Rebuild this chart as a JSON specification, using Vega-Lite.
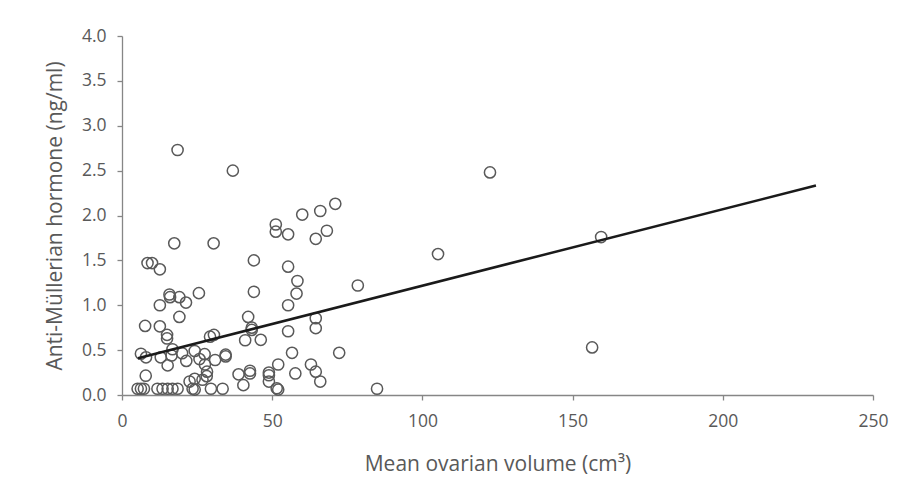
{
  "$schema": "https://vega.github.io/schema/vega-lite/v6.json",
  "autosize": {"type": "none"},
  "width": 751,
  "height": 359,
  "padding": {"left": 122, "top": 36, "right": 30, "bottom": 98},
  "background": "white",
  "config": {
    "view": {"stroke": null},
    "font": "Open Sans",
    "axis": {
      "grid": false,
      "domainColor": "#868686",
      "domainWidth": 1.3,
      "tickColor": "#868686",
      "tickWidth": 1.3,
      "tickSize": 5,
      "labelColor": "#595959",
      "labelFont": "Open Sans",
      "labelFontSize": 17.5,
      "titleColor": "#595959",
      "titleFont": "Open Sans",
      "titleFontSize": 21,
      "titleFontWeight": "normal"
    }
  },
  "datasets": {
    "points": [
      {"volume": 18.5, "amh": 2.73}, {"volume": 36.9, "amh": 2.50}, {"volume": 122.5, "amh": 2.48},
      {"volume": 71.0, "amh": 2.13}, {"volume": 66.0, "amh": 2.05}, {"volume": 60.0, "amh": 2.01},
      {"volume": 51.2, "amh": 1.90}, {"volume": 51.2, "amh": 1.82}, {"volume": 55.3, "amh": 1.79},
      {"volume": 68.2, "amh": 1.83}, {"volume": 64.5, "amh": 1.74}, {"volume": 17.4, "amh": 1.69},
      {"volume": 30.5, "amh": 1.69}, {"volume": 159.5, "amh": 1.76}, {"volume": 105.2, "amh": 1.57},
      {"volume": 8.5, "amh": 1.47}, {"volume": 10.0, "amh": 1.47}, {"volume": 12.6, "amh": 1.40},
      {"volume": 43.9, "amh": 1.50}, {"volume": 55.3, "amh": 1.43}, {"volume": 58.4, "amh": 1.27},
      {"volume": 78.5, "amh": 1.22}, {"volume": 58.1, "amh": 1.13}, {"volume": 43.9, "amh": 1.15},
      {"volume": 25.6, "amh": 1.135}, {"volume": 15.8, "amh": 1.12}, {"volume": 16.0, "amh": 1.09},
      {"volume": 19.1, "amh": 1.09}, {"volume": 21.3, "amh": 1.03}, {"volume": 12.6, "amh": 1.00},
      {"volume": 55.3, "amh": 1.00}, {"volume": 19.1, "amh": 0.87}, {"volume": 42.0, "amh": 0.87},
      {"volume": 64.5, "amh": 0.855}, {"volume": 7.7, "amh": 0.77}, {"volume": 12.6, "amh": 0.765},
      {"volume": 43.2, "amh": 0.75}, {"volume": 43.2, "amh": 0.725}, {"volume": 64.5, "amh": 0.745},
      {"volume": 55.3, "amh": 0.71}, {"volume": 15.0, "amh": 0.67}, {"volume": 15.0, "amh": 0.63},
      {"volume": 29.3, "amh": 0.65}, {"volume": 30.6, "amh": 0.67}, {"volume": 41.0, "amh": 0.61},
      {"volume": 46.2, "amh": 0.615}, {"volume": 156.5, "amh": 0.53}, {"volume": 16.8, "amh": 0.51},
      {"volume": 6.3, "amh": 0.46}, {"volume": 8.0, "amh": 0.42}, {"volume": 12.9, "amh": 0.42},
      {"volume": 16.5, "amh": 0.44}, {"volume": 20.0, "amh": 0.465}, {"volume": 21.4, "amh": 0.38},
      {"volume": 24.2, "amh": 0.49}, {"volume": 25.8, "amh": 0.40}, {"volume": 27.5, "amh": 0.455},
      {"volume": 27.6, "amh": 0.34}, {"volume": 28.3, "amh": 0.26}, {"volume": 28.2, "amh": 0.21},
      {"volume": 31.0, "amh": 0.39}, {"volume": 34.5, "amh": 0.45}, {"volume": 34.5, "amh": 0.43},
      {"volume": 56.6, "amh": 0.47}, {"volume": 72.3, "amh": 0.47}, {"volume": 52.0, "amh": 0.34},
      {"volume": 62.9, "amh": 0.34}, {"volume": 64.5, "amh": 0.26}, {"volume": 66.0, "amh": 0.15},
      {"volume": 57.7, "amh": 0.24}, {"volume": 48.9, "amh": 0.25}, {"volume": 48.9, "amh": 0.22},
      {"volume": 48.9, "amh": 0.15}, {"volume": 42.6, "amh": 0.27}, {"volume": 42.6, "amh": 0.24},
      {"volume": 38.8, "amh": 0.23}, {"volume": 40.4, "amh": 0.11}, {"volume": 51.5, "amh": 0.075},
      {"volume": 52.0, "amh": 0.06}, {"volume": 84.9, "amh": 0.07}, {"volume": 15.2, "amh": 0.33},
      {"volume": 7.9, "amh": 0.215}, {"volume": 22.5, "amh": 0.15}, {"volume": 24.2, "amh": 0.18},
      {"volume": 26.8, "amh": 0.17}, {"volume": 5.2, "amh": 0.07}, {"volume": 6.3, "amh": 0.07},
      {"volume": 7.3, "amh": 0.07}, {"volume": 11.8, "amh": 0.07}, {"volume": 13.5, "amh": 0.07},
      {"volume": 15.2, "amh": 0.07}, {"volume": 16.8, "amh": 0.07}, {"volume": 18.5, "amh": 0.07},
      {"volume": 23.5, "amh": 0.07}, {"volume": 24.2, "amh": 0.06}, {"volume": 29.6, "amh": 0.07},
      {"volume": 33.5, "amh": 0.07}
    ],
    "trend": [
      {"volume": 5.3, "amh": 0.41},
      {"volume": 231.0, "amh": 2.335}
    ]
  },
  "layer": [
    {
      "data": {"name": "points"},
      "mark": {"type": "point", "shape": "circle", "filled": false, "size": 125, "stroke": "#595959", "strokeWidth": 1.5, "opacity": 1},
      "encoding": {
        "x": {"field": "volume", "type": "quantitative",
              "scale": {"domain": [0, 250], "nice": false},
              "axis": {"values": [0, 50, 100, 150, 200, 250], "title": "Mean ovarian volume (cm³)", "labelPadding": 12, "titlePadding": 24, "labelFlush": false}},
        "y": {"field": "amh", "type": "quantitative",
              "scale": {"domain": [0, 4], "nice": false},
              "axis": {"values": [0, 0.5, 1, 1.5, 2, 2.5, 3, 3.5, 4], "format": ".1f", "title": "Anti-Müllerian hormone (ng/ml)", "labelPadding": 11, "titlePadding": 16, "labelFlush": false}}
      }
    },
    {
      "data": {"name": "trend"},
      "mark": {"type": "line", "color": "#1a1a1a", "strokeWidth": 2.5},
      "encoding": {
        "x": {"field": "volume", "type": "quantitative"},
        "y": {"field": "amh", "type": "quantitative"}
      }
    }
  ]
}
